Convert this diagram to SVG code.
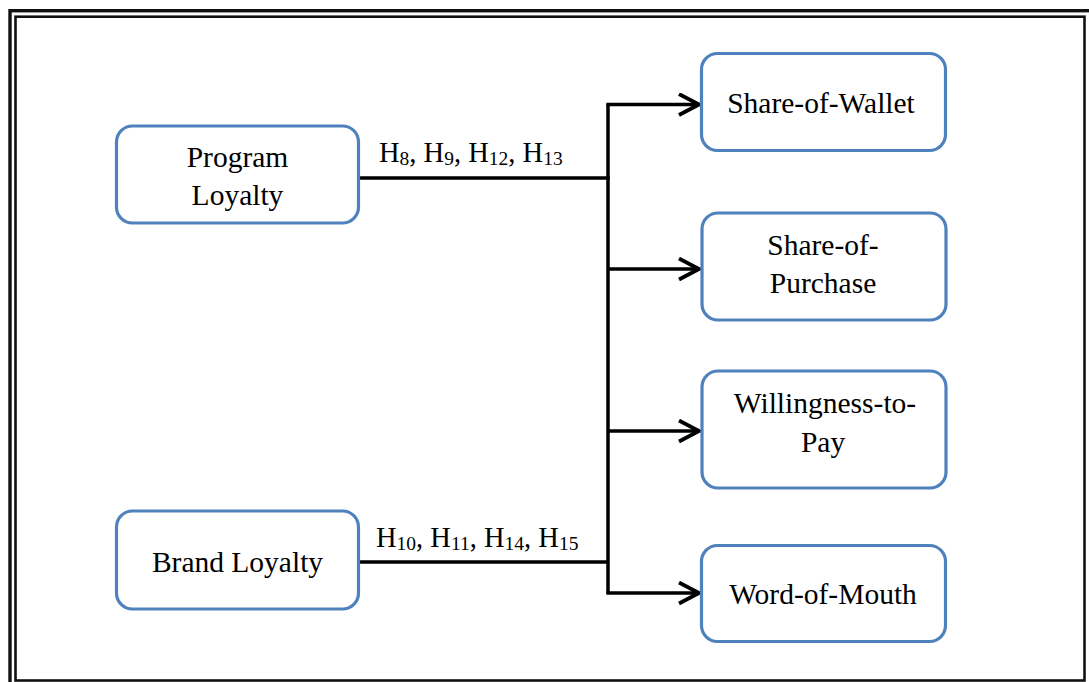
<svg xmlns="http://www.w3.org/2000/svg" width="1089" height="682" viewBox="0 0 1089 682">
  <style>
    .frame { fill: none; stroke: #111; }
    .box { fill: #fff; stroke: #4f81bd; stroke-width: 3.2; }
    .label { font-family: "Liberation Serif", "Times New Roman", serif; font-size: 29.5px; fill: #000; text-anchor: middle; }
    .hyp { font-family: "Liberation Serif", "Times New Roman", serif; font-size: 28.5px; fill: #000; }
    .sub { font-size: 19.5px; }
    .wire { fill: none; stroke: #000; stroke-width: 3.5; }
  </style>
  <defs>
    <marker id="chevron" markerUnits="userSpaceOnUse" markerWidth="30" markerHeight="30" refX="22" refY="12" orient="auto">
      <path d="M2,1.5 L22,12 L2,22.5" fill="none" stroke="#000" stroke-width="3.8" stroke-linejoin="miter"/>
    </marker>
  </defs>
  <rect width="1089" height="682" fill="#fff"/>

  <!-- double page border -->
  <g id="border">
    <rect class="frame" x="10" y="10.7" width="1100" height="700" stroke-width="3.4"/>
    <rect class="frame" x="15.5" y="16.7" width="1069" height="663.8" stroke-width="2.6"/>
  </g>

  <!-- connectors -->
  <g id="connectors">
    <line class="wire" x1="358" y1="178" x2="609.7" y2="178"/>
    <line class="wire" x1="358" y1="562" x2="608" y2="562"/>
    <polyline class="wire" points="608,104.5 608,593"/>
    <line class="wire" x1="606.3" y1="104.5" x2="699" y2="104.5" marker-end="url(#chevron)"/>
    <line class="wire" x1="608" y1="269" x2="699" y2="269" marker-end="url(#chevron)"/>
    <line class="wire" x1="608" y1="431" x2="699" y2="431" marker-end="url(#chevron)"/>
    <line class="wire" x1="606.3" y1="593" x2="699" y2="593" marker-end="url(#chevron)"/>
    <text class="hyp" x="379" y="162">H<tspan class="sub" dy="3">8</tspan><tspan dy="-3">, H</tspan><tspan class="sub" dy="3">9</tspan><tspan dy="-3">, H</tspan><tspan class="sub" dy="3">12</tspan><tspan dy="-3">, H</tspan><tspan class="sub" dy="3">13</tspan></text>
    <text class="hyp" x="376" y="547">H<tspan class="sub" dy="3">10</tspan><tspan dy="-3">, H</tspan><tspan class="sub" dy="3">11</tspan><tspan dy="-3">, H</tspan><tspan class="sub" dy="3">14</tspan><tspan dy="-3">, H</tspan><tspan class="sub" dy="3">15</tspan></text>
  </g>

  <g id="program-loyalty">
    <rect class="box" x="116.5" y="126" width="242" height="97" rx="16"/>
    <text class="label" x="237.5" y="167">Program</text>
    <text class="label" x="237.5" y="205">Loyalty</text>
  </g>

  <g id="brand-loyalty">
    <rect class="box" x="116.5" y="511" width="242" height="98" rx="16"/>
    <text class="label" x="237.5" y="572">Brand Loyalty</text>
  </g>

  <g id="share-of-wallet">
    <rect class="box" x="701.5" y="53.5" width="244" height="97" rx="16"/>
    <text class="label" x="821" y="113">Share-of-Wallet</text>
  </g>

  <g id="share-of-purchase">
    <rect class="box" x="702" y="213" width="244" height="107" rx="16"/>
    <text class="label" x="823" y="255">Share-of-</text>
    <text class="label" x="823" y="293">Purchase</text>
  </g>

  <g id="willingness-to-pay">
    <rect class="box" x="702" y="371" width="244" height="117" rx="16"/>
    <text class="label" x="825" y="413">Willingness-to-</text>
    <text class="label" x="823" y="452">Pay</text>
  </g>

  <g id="word-of-mouth">
    <rect class="box" x="701.5" y="545.5" width="244" height="96" rx="16"/>
    <text class="label" x="823" y="604">Word-of-Mouth</text>
  </g>
</svg>
